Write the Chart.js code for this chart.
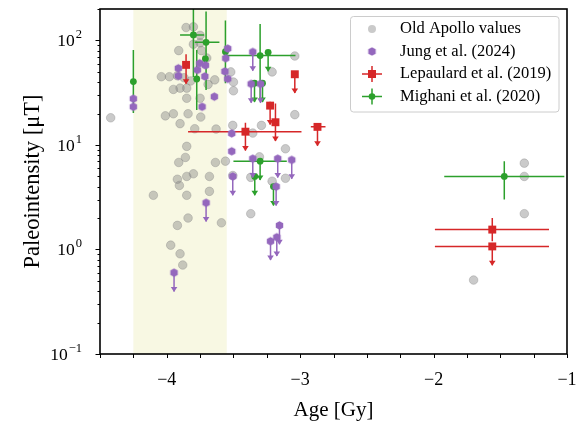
<!DOCTYPE html>
<html>
<head>
<meta charset="utf-8">
<script src="https://cdn.jsdelivr.net/npm/chart.js@4.4.1/dist/chart.umd.min.js"></script>
<style>
  html, body { margin: 0; padding: 0; background: #fff; }
</style>
</head>
<body>
<canvas id="chart" width="587" height="421"></canvas>
<script>
// values (age in Gy, field in microtesla)
const apolloAge = [-4.42, -3.855, -3.80, -3.75, -3.80, -3.75, -3.91, -3.74, -3.70, -4.04,
  -3.98, -3.92, -3.87, -3.82, -3.69, -3.64, -3.95, -3.90, -3.85, -3.85,
  -3.75, -4.01, -3.95, -3.84, -3.745, -3.90, -3.79, -3.63, -3.52, -3.50,
  -3.50, -3.29, -3.21, -3.04, -3.04, -3.505, -3.355, -3.11, -3.305, -3.635,
  -3.56, -3.505, -3.37, -3.21, -3.11, -3.68, -3.68, -3.37, -3.59, -3.85,
  -3.86, -3.91, -3.80, -3.85, -3.92, -3.905, -4.10, -3.85, -3.84, -3.92,
  -3.97, -3.90, -3.88, -1.32, -1.32, -1.32, -1.70];
const apolloB = [18.2, 133, 135, 112, 92, 95, 80, 80, 68, 45,
  45, 46, 44, 41, 38, 42, 34, 35, 35, 28,
  28, 19, 19.9, 19.9, 18.5, 16, 14.3, 14.2, 50, 40,
  33, 15.4, 50, 71, 19.5, 15.4, 13, 9.2, 7.7, 6.8,
  7.0, 5.1, 4.9, 4.5, 4.8, 5.0, 3.6, 2.2, 1.8, 9.7,
  7.6, 6.8, 5.3, 5.0, 4.7, 4.1, 3.3, 3.3, 2.0, 1.7,
  1.1, 0.91, 0.71, 6.7, 5.0, 2.2, 0.51];

const jungAge = [-4.25, -4.25, -3.913, -3.913, -3.77, -3.753, -3.71, -3.714, -3.643, -3.735,
  -3.543, -3.558, -3.564, -3.543, -3.355, -3.367, -3.297, -3.513, -3.513, -3.505,
  -3.355, -3.168, -3.063, -3.18, -3.705, -3.155, -3.175, -3.222, -3.945];
const jungB = [27.7, 23.2, 54.2, 45.8, 52.2, 60.5, 57.9, 45.3, 29, 23.2,
  83.6, 67.6, 50.6, 42.9, 77.6, 38.4, 38.4, 12.9, 8.7, 5.0,
  7.4, 7.4, 7.2, 4.0, 2.8, 1.7, 1.31, 1.2, 0.6];
const jungUpper = [0, 0, 0, 0, 0, 0, 0, 0, 0, 0,
  0, 0, 0, 0, 1, 1, 1, 0, 0, 1,
  1, 1, 1, 1, 1, 1, 1, 1, 1];

const lepAge = [-3.855, -3.41, -3.225, -3.185, -3.04, -2.87, -1.56, -1.56];
const lepB = [58.4, 13.4, 23.8, 16.5, 47.5, 14.9, 1.55, 1.07];
const lepAgeLo = [null, -3.84, null, null, null, -2.92, -1.99, -1.99];
const lepAgeHi = [null, -2.99, null, null, null, -2.81, -1.135, -1.135];
const lepBHi = [74, 16.3, 25.9, 25, null, 16.1, 2.0, null];
const lepBLo = [null, null, null, null, null, null, 1.2, null];
const lepUpper = [1, 1, 1, 1, 1, 1, 0, 1];

const migAge = [-4.25, -3.80, -3.705, -3.71, -3.775, -3.56, -3.30, -3.24, -3.342, -3.282, -3.30, -3.34, -3.20, -1.47];
const migB = [40.4, 113, 96, 66.7, 42.8, 78, 71.6, 77, 39, 39, 7.0, 5.0, 4.0, 5.0];
const migAgeLo = [null, -3.90, -3.79, null, null, null, -3.56, null, null, null, -3.50, null, null, -1.92];
const migAgeHi = [null, -3.72, -3.605, null, null, null, -3.035, null, null, null, -3.10, null, null, -1.02];
const migBHi = [81, 300, 189, null, 81, 155, 144, null, null, null, null, null, null, 7.0];
const migBLo = [20.2, 44.8, 33.6, null, 21.6, 39, 27, null, null, null, null, null, null, 3.0];
const migUpper = [0, 0, 0, 0, 0, 0, 0, 1, 1, 1, 1, 1, 1, 0];

const shadeSpan = [-4.25, -3.55];
const xMajorTicks = [-4, -3, -2, -1];
const yDecades = [0.1, 1, 10, 100];
const yExponents = ['\u22121', '0', '1', '2'];
const legendNames = ['Old Apollo values', 'Jung et al. (2024)', 'Lepaulard et al. (2019)', 'Mighani et al. (2020)'];

const ARROW = 0.66;   // length of upper-limit arrows, as a factor
const SERIF = "'Liberation Serif', 'DejaVu Serif', serif";
const GRAY = 'rgba(128,128,128,0.42)';
const PURPLE = '#9467bd', RED = '#d62728', GREEN = '#2ca02c';

function points(ages, vals) {
    return ages.map((a, i) => ({ x: a, y: vals[i] }));
}

function bars(ages, xlo, xhi, yhi, ylo, upper) {
    return ages.map((a, i) => ({
        xLo: xlo ? xlo[i] : null,
        xHi: xhi ? xhi[i] : null,
        yHi: yhi ? yhi[i] : null,
        yLo: ylo ? ylo[i] : null,
        lim: !!upper[i]
    }));
}

function hexagon(r, color) {
    const s = Math.ceil(2 * r + 2);
    const c = document.createElement('canvas');
    c.width = s; c.height = s;
    const g = c.getContext('2d');
    g.beginPath();
    for (let k = 0; k < 6; k++) {
        const t = Math.PI / 2 + k * Math.PI / 3;
        const px = s / 2 + r * Math.cos(t), py = s / 2 - r * Math.sin(t);
        if (k) g.lineTo(px, py); else g.moveTo(px, py);
    }
    g.closePath();
    g.fillStyle = color;
    g.fill();
    return c;
}
const hexMarker = hexagon(4.3, PURPLE);

// shaded age window behind everything
const shadePlugin = {
    id: 'shade',
    beforeDatasetsDraw(chart) {
        const { ctx, chartArea: a, scales: { x } } = chart;
        const x0 = x.getPixelForValue(shadeSpan[0]), x1 = x.getPixelForValue(shadeSpan[1]);
        ctx.save();
        ctx.fillStyle = 'rgba(191,191,0,0.11)';
        ctx.fillRect(x0, a.top, x1 - x0, a.bottom - a.top);
        ctx.restore();
    }
};

// error bars + upper-limit arrows, drawn just under each dataset's markers
const errorBarPlugin = {
    id: 'errorBars',
    beforeDatasetDraw(chart, args) {
        const ds = chart.data.datasets[args.index];
        if (!ds.bars) return;
        const { ctx, chartArea: a, scales: { x, y } } = chart;
        ctx.save();
        ctx.beginPath();
        ctx.rect(a.left, a.top, a.right - a.left, a.bottom - a.top);
        ctx.clip();
        ctx.strokeStyle = ds.barColor;
        ctx.fillStyle = ds.barColor;
        ctx.lineWidth = 1.5;
        ds.bars.forEach((b, i) => {
            const p = ds.data[i];
            const px = x.getPixelForValue(p.x), py = y.getPixelForValue(p.y);
            ctx.beginPath();
            if (b.xLo != null) {
                ctx.moveTo(x.getPixelForValue(b.xLo), py);
                ctx.lineTo(x.getPixelForValue(b.xHi), py);
            }
            if (b.yHi != null) { ctx.moveTo(px, py); ctx.lineTo(px, y.getPixelForValue(b.yHi)); }
            if (b.yLo != null) { ctx.moveTo(px, py); ctx.lineTo(px, y.getPixelForValue(b.yLo)); }
            let tip = null;
            if (b.lim) {
                tip = y.getPixelForValue(p.y * ARROW);
                ctx.moveTo(px, py);
                ctx.lineTo(px, tip);
            }
            ctx.stroke();
            if (tip !== null) {
                ctx.beginPath();
                ctx.moveTo(px - 3.3, tip - 4.5);
                ctx.lineTo(px + 3.3, tip - 4.5);
                ctx.lineTo(px, tip + 0.5);
                ctx.closePath();
                ctx.fill();
            }
        });
        ctx.restore();
    }
};

// frame, tick marks, log tick labels, legend box
const framePlugin = {
    id: 'frame',
    afterDraw(chart) {
        const { ctx, chartArea: a, scales: { x, y } } = chart;
        ctx.save();
        ctx.strokeStyle = '#000';
        ctx.lineWidth = 1;
        ctx.beginPath();
        for (let v = -4.5; v <= -1.0001 + 0.001; v += 0.25) {
            const px = Math.round(x.getPixelForValue(v)) + 0.5;
            ctx.moveTo(px, a.bottom); ctx.lineTo(px, a.bottom + 4);
        }
        for (let d = 0.1; d < 150; d *= 10) {
            for (let m = 1; m <= 9; m++) {
                const v = d * m;
                if (v > y.max) break;
                const py = Math.round(y.getPixelForValue(v)) + 0.5;
                const len = m === 1 ? 4.5 : 2.5;
                ctx.moveTo(a.left, py); ctx.lineTo(a.left - len, py);
            }
        }
        ctx.stroke();

        ctx.lineWidth = 1.6;
        ctx.strokeRect(a.left, a.top, a.right - a.left, a.bottom - a.top);

        // y labels as 10 with a raised exponent
        ctx.fillStyle = '#000';
        ctx.textBaseline = 'alphabetic';
        yDecades.forEach((v, i) => {
            const py = y.getPixelForValue(v);
            ctx.font = '17.5px ' + SERIF;
            const wBase = ctx.measureText('10').width;
            ctx.font = '12.5px ' + SERIF;
            const wExp = ctx.measureText(yExponents[i]).width;
            const x0 = a.left - 19 - wExp - wBase;
            ctx.font = '17.5px ' + SERIF;
            ctx.fillText('10', x0, py + 6);
            ctx.font = '12.5px ' + SERIF;
            ctx.fillText(yExponents[i], x0 + wBase + 1, py - 2);
        });

        // legend
        const L = 350.5, T = 16.5, W = 208.5, H = 95.5, r = 3;
        ctx.beginPath();
        ctx.moveTo(L + r, T);
        ctx.arcTo(L + W, T, L + W, T + H, r);
        ctx.arcTo(L + W, T + H, L, T + H, r);
        ctx.arcTo(L, T + H, L, T, r);
        ctx.arcTo(L, T, L + W, T, r);
        ctx.closePath();
        ctx.fillStyle = 'rgba(255,255,255,0.85)';
        ctx.fill();
        ctx.strokeStyle = '#cccccc';
        ctx.lineWidth = 1;
        ctx.stroke();

        const mx = 372, rows = [29, 51.5, 74, 96.5];
        // gray circle
        ctx.fillStyle = GRAY;
        ctx.beginPath(); ctx.arc(mx, rows[0], 4, 0, Math.PI * 2); ctx.fill();
        // hexagon
        ctx.drawImage(hexMarker, mx - hexMarker.width / 2, rows[1] - hexMarker.height / 2);
        // red square with bars
        ctx.strokeStyle = RED; ctx.fillStyle = RED; ctx.lineWidth = 1.5;
        ctx.beginPath();
        ctx.moveTo(mx - 10, rows[2]); ctx.lineTo(mx + 10, rows[2]);
        ctx.moveTo(mx, rows[2] - 8); ctx.lineTo(mx, rows[2] + 8);
        ctx.stroke();
        ctx.fillRect(mx - 4, rows[2] - 4, 8, 8);
        // green dot with bars
        ctx.strokeStyle = GREEN; ctx.fillStyle = GREEN;
        ctx.beginPath();
        ctx.moveTo(mx - 10, rows[3]); ctx.lineTo(mx + 10, rows[3]);
        ctx.moveTo(mx, rows[3] - 8); ctx.lineTo(mx, rows[3] + 8);
        ctx.stroke();
        ctx.beginPath(); ctx.arc(mx, rows[3], 3.3, 0, Math.PI * 2); ctx.fill();

        ctx.fillStyle = '#000';
        ctx.font = '16.5px ' + SERIF;
        ctx.textBaseline = 'middle';
        legendNames.forEach((t, i) => ctx.fillText(t, 400, rows[i]));
        ctx.restore();
    }
};

new Chart(document.getElementById('chart'), {
    type: 'scatter',
    data: {
        datasets: [
            {
                label: legendNames[0],
                data: points(apolloAge, apolloB),
                pointRadius: 4.3,
                backgroundColor: GRAY,
                borderColor: 'rgba(128,128,128,0.35)',
                borderWidth: 1,
                order: 4
            },
            {
                label: legendNames[1],
                data: points(jungAge, jungB),
                pointStyle: hexMarker,
                pointRadius: 4.3,
                backgroundColor: PURPLE,
                borderWidth: 0,
                bars: bars(jungAge, null, null, null, null, jungUpper),
                barColor: PURPLE,
                order: 1
            },
            {
                label: legendNames[2],
                data: points(lepAge, lepB),
                pointStyle: 'rect',
                pointRadius: 5.6,
                backgroundColor: RED,
                borderWidth: 0,
                bars: bars(lepAge, lepAgeLo, lepAgeHi, lepBHi, lepBLo, lepUpper),
                barColor: RED,
                order: 2
            },
            {
                label: legendNames[3],
                data: points(migAge, migB),
                pointRadius: 3.4,
                backgroundColor: GREEN,
                borderWidth: 0,
                bars: bars(migAge, migAgeLo, migAgeHi, migBHi, migBLo, migUpper),
                barColor: GREEN,
                order: 3
            }
        ]
    },
    options: {
        responsive: false,
        animation: false,
        devicePixelRatio: 1,
        layout: { padding: { top: 9, right: 20, left: 0, bottom: 0 } },
        plugins: {
            legend: { display: false },
            tooltip: { enabled: false }
        },
        scales: {
            x: {
                type: 'linear',
                min: -4.5,
                max: -1,
                afterBuildTicks: (scale) => {
                    scale.ticks = xMajorTicks.map(v => ({ value: v }));
                },
                afterFit: (scale) => {
                    scale.height = 67;
                    scale.paddingLeft = 0;
                    scale.paddingRight = 0;
                },
                grid: { display: false, drawTicks: false },
                border: { display: false },
                ticks: {
                    autoSkip: false,
                    maxRotation: 0,
                    padding: 15,
                    color: '#000',
                    font: { family: SERIF, size: 18 },
                    callback: (v) => '\u2212' + Math.abs(v)
                },
                title: {
                    display: true,
                    text: 'Age [Gy]',
                    color: '#000',
                    font: { family: SERIF, size: 21, lineHeight: 1.0 },
                    padding: { top: 0, bottom: 0 }
                }
            },
            y: {
                type: 'logarithmic',
                min: 0.1,
                max: 200,
                afterFit: (scale) => {
                    scale.width = 100;
                    scale.paddingTop = 0;
                    scale.paddingBottom = 0;
                },
                grid: { display: false, drawTicks: false },
                border: { display: false },
                ticks: { display: false },
                title: {
                    display: true,
                    text: 'Paleointensity [\u03bcT]',
                    color: '#000',
                    font: { family: SERIF, size: 22.5, lineHeight: 1.2 },
                    padding: { top: 20, bottom: 0 }
                }
            }
        }
    },
    plugins: [shadePlugin, errorBarPlugin, framePlugin]
});
</script>
</body>
</html>
